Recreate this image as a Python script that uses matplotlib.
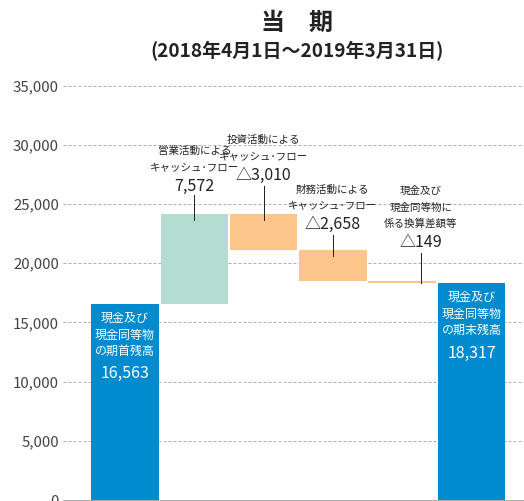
import numpy as np
import matplotlib
matplotlib.use('Agg')
import matplotlib.pyplot as plt

plt.rcParams['font.family'] = ['Noto Sans CJK JP', 'DejaVu Sans']

# ---- data ----
opening = 16563
closing = 18317
change_values = [7572, -3010, -2658, -149]
change_labels = [
    ['営業活動による', 'キャッシュ･フロー'],
    ['投資活動による', 'キャッシュ･フロー'],
    ['財務活動による', 'キャッシュ･フロー'],
    ['現金及び', '現金同等物に', '係る換算差額等'],
]
change_texts = ['7,572', '△3,010', '△2,658', '△149']
total_labels = [['現金及び', '現金同等物', 'の期首残高'], ['現金及び', '現金同等物', 'の期末残高']]
total_texts = ['16,563', '18,317']
yticks = np.arange(0, 35001, 5000)

# ---- colours ----
BLUE = '#008BCF'
GREEN = '#B3DDD1'
ORANGE = '#FCC68A'

# dpi 72 -> 1 pt == 1 px
fig = plt.figure(figsize=(524 / 72, 501 / 72), dpi=72)
ax = fig.add_axes([63 / 524, 1 / 501, (524 - 63) / 524, 414.4 / 501])

ax_h_px = 414.4
def px(n):
    # pixels -> data units on y
    return n * 35000 / ax_h_px

# waterfall geometry
running = np.concatenate([[opening], opening + np.cumsum(change_values)])
bottoms = np.minimum(running[:-1], running[1:])
heights = np.abs(change_values)
tops = np.maximum(running[:-1], running[1:])
change_colors = [GREEN if v > 0 else ORANGE for v in change_values]

x = np.arange(6)
w = 0.975
ax.bar(x[0], opening, width=w, color=BLUE, zorder=3)
ax.bar(x[1:5], heights, bottom=bottoms, width=w, color=change_colors, zorder=3)
ax.bar(x[5], closing, width=w, color=BLUE, zorder=3)

# texts inside the blue bars (offsets below bar top, px)
for xi, val, lines, num in [(x[0], opening, total_labels[0], total_texts[0]),
                            (x[5], closing, total_labels[1], total_texts[1])]:
    for k, s in enumerate(lines):
        ax.text(xi, val - px(14.5 + 16.5 * k), s, ha='center', va='center',
                color='white', fontsize=12, zorder=4)
    ax.text(xi, val - px(70), num, ha='center', va='center',
            color='white', fontsize=16, zorder=4)

# labels above the change bars
num_off = [28, 39, 25, 39]
line_top = [19, 28, 15, 28]
line_in = [6, 6, 6, 2]
x_shift = [0, 0, 0, 0.27]
for i in range(4):
    xi = x[i + 1] + x_shift[i]
    top = tops[i]
    ax.plot([xi, xi], [top + px(line_top[i]), top - px(line_in[i])],
            color='#222222', lw=1, zorder=4)
    ax.text(xi, top + px(num_off[i]), change_texts[i], ha='center', va='center',
            fontsize=16, color='#222222')
    lines = change_labels[i]
    for k, s in enumerate(reversed(lines)):
        ax.text(xi, top + px(num_off[i] + 18.5 + 16.5 * k), s, ha='center',
                va='center', fontsize=10.5, color='#222222')

# axes styling
ax.set_xlim(-0.895, 5.758)
ax.set_ylim(0, 35000)
ax.set_yticks(yticks)
ax.set_yticklabels([f'{v:,}' for v in yticks], fontsize=15, color='#444444')
ax.tick_params(axis='y', length=0, pad=4)
ax.set_xticks([])
for s in ['top', 'right', 'left']:
    ax.spines[s].set_visible(False)
ax.spines['bottom'].set_color('#999999')
ax.yaxis.grid(True, linestyle=(0, (3, 2)), color='#b0b0b0', lw=1, zorder=0)
ax.set_axisbelow(True)

fig.text(297 / 524, 1 - 23 / 501, '当　期', ha='center', va='center',
         fontsize=24, fontweight='bold', color='#222222')
fig.text(297 / 524, 1 - 51 / 501, '(2018年4月1日～2019年3月31日)', ha='center',
         va='center', fontsize=19, fontweight='bold', color='#222222')

fig.savefig('out.png', dpi=72)
